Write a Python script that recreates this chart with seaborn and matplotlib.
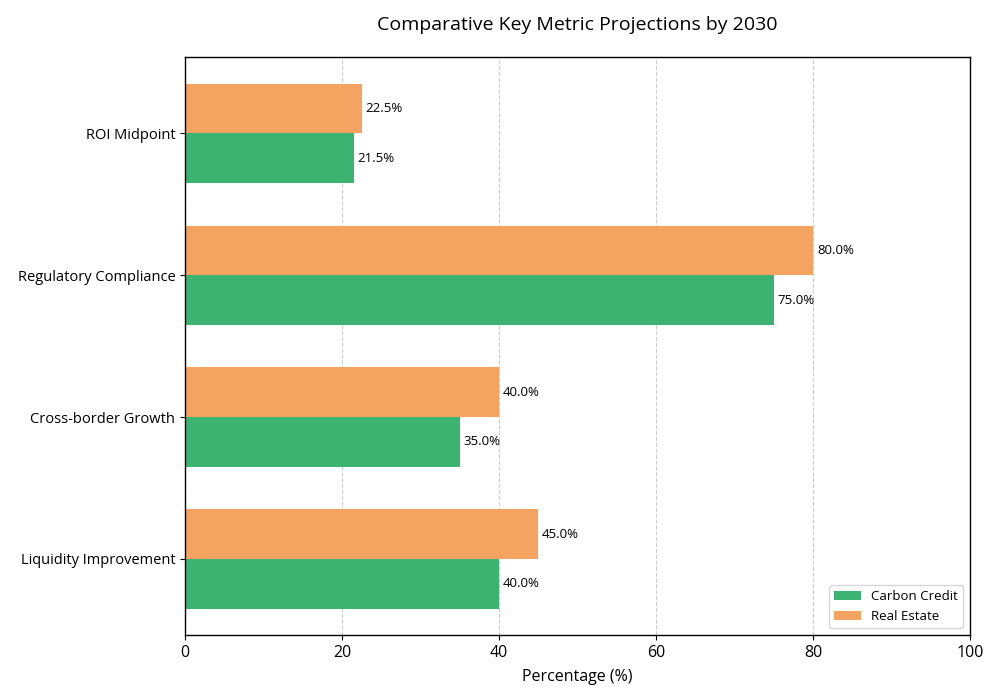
import matplotlib
matplotlib.use("Agg")
import matplotlib.pyplot as plt
import seaborn as sns
import pandas as pd

# Datos (de abajo hacia arriba)
metricas = ["Liquidity Improvement", "Cross-border Growth", "Regulatory Compliance", "ROI Midpoint"]
carbon_credit = [40.0, 35.0, 75.0, 21.5]
real_estate = [45.0, 40.0, 80.0, 22.5]
series = ["Carbon Credit", "Real Estate"]
colores = ["#3CB371", "#F4A460"]

df = pd.DataFrame({
    "Metric": metricas * 2,
    "Value": carbon_credit + real_estate,
    "Series": [series[0]] * len(metricas) + [series[1]] * len(metricas),
})

sns.set_style("ticks")
plt.rcParams["font.family"] = ["Open Sans", "DejaVu Sans"]
plt.rcParams["text.color"] = "black"
plt.rcParams["axes.labelcolor"] = "black"
plt.rcParams["xtick.color"] = "black"
plt.rcParams["ytick.color"] = "black"

fig, ax = plt.subplots(figsize=(10, 7), dpi=100)
sns.barplot(data=df, y="Metric", x="Value", hue="Series", order=metricas,
            hue_order=series, palette=colores, orient="h", width=0.7,
            saturation=1, linewidth=0, ax=ax)

# seaborn invierte el eje y; lo volvemos a poner normal
ax.invert_yaxis()
ax.set_ylim(-0.535, len(metricas) - 1 + 0.535)
ax.set_xlim(0, 100)

# etiquetas de valor
for cont in ax.containers:
    for barra in cont:
        w = barra.get_width()
        ax.text(w + 0.5, barra.get_y() + barra.get_height() / 2, f"{w:.1f}%",
                va="center", ha="left", fontsize=9.5, color="black")

ax.xaxis.grid(True, linestyle="--", color="#cccccc", linewidth=0.8)
ax.set_axisbelow(True)
for s in ax.spines.values():
    s.set_visible(True)
    s.set_color("black")
    s.set_linewidth(1)

ax.set_xlabel("Percentage (%)", fontsize=11.5, labelpad=6)
ax.set_ylabel("")
ax.set_title("Comparative Key Metric Projections by 2030", fontsize=14, pad=20)
ax.tick_params(axis="x", labelsize=11.5)
ax.tick_params(axis="y", labelsize=10.5)

ax.legend(title=None, loc="lower right", fontsize=9.5, frameon=True)

plt.subplots_adjust(left=0.185, right=0.97, top=0.918, bottom=0.093)
plt.savefig("out.png")
